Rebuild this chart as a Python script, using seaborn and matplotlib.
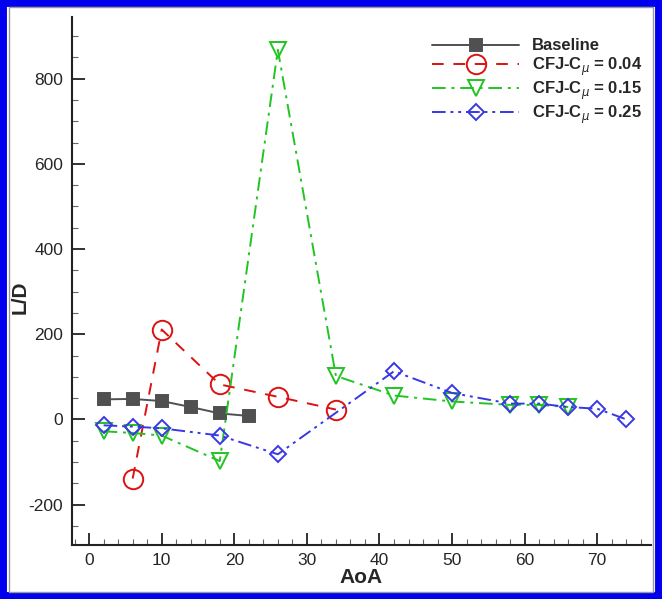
"""L/D vs AoA for baseline and CFJ cases."""
import matplotlib
matplotlib.use("Agg")
import matplotlib.pyplot as plt
from matplotlib.patches import Rectangle
from matplotlib.ticker import MultipleLocator
import seaborn as sns

# data
baseline_aoa = [2, 6, 10, 14, 18, 22]
baseline_ld = [47, 48, 43, 29, 14, 8]

cfj004_aoa = [6, 10, 18, 26, 34]
cfj004_ld = [-139, 211, 82, 53, 23]

cfj015_aoa = [2, 6, 10, 18, 26, 34, 42, 50, 58, 62, 66]
cfj015_ld = [-28, -32, -38, -98, 868, 102, 56, 42, 34, 34, 29]

cfj025_aoa = [2, 6, 10, 18, 26, 42, 50, 58, 62, 66, 70, 74]
cfj025_ld = [-14, -17, -21, -38, -82, 113, 62, 37, 37, 29, 25, 0]

series = [
    ("Baseline", baseline_aoa, baseline_ld, "#505050", "s", 8, "-", True),
    (r"CFJ-C$_{\mu}$ = 0.04", cfj004_aoa, cfj004_ld, "#dd1111", "o", 14, (0, (6, 5)), False),
    (r"CFJ-C$_{\mu}$ = 0.15", cfj015_aoa, cfj015_ld, "#22c422", "v", 11, (0, (7, 3, 1.5, 3)), False),
    (r"CFJ-C$_{\mu}$ = 0.25", cfj025_aoa, cfj025_ld, "#3838e6", "D", 8, (0, (7, 2.5, 1.5, 2.5, 1.5, 2.5)), False),
]

sns.set_style("ticks")
plt.rcParams["font.family"] = ["Liberation Sans", "DejaVu Sans"]
plt.rcParams["mathtext.fontset"] = "dejavusans"
plt.rcParams["axes.unicode_minus"] = False

fig = plt.figure(figsize=(6.62, 5.99), dpi=100)
ax = fig.add_axes([0.1083, 0.0902, 0.875, 0.8814])

for label, x, y, color, marker, ms, ls, filled in series:
    sns.lineplot(x=x, y=y, ax=ax, color=color, label=label, linestyle=ls,
                 linewidth=1.4, marker=marker, markersize=ms,
                 markerfacecolor=color if filled else "none",
                 markeredgecolor=color, markeredgewidth=1.4,
                 sort=False, estimator=None)

ax.set_xlim(-2.4, 77.4)
ax.set_ylim(-295, 945)
ax.xaxis.set_major_locator(MultipleLocator(10))
ax.xaxis.set_minor_locator(MultipleLocator(2))
ax.yaxis.set_major_locator(MultipleLocator(200))
ax.yaxis.set_minor_locator(MultipleLocator(50))
ax.tick_params(which="major", direction="in", length=9, width=1.3,
               labelsize=12.5, pad=6, color="#222222")
ax.tick_params(which="minor", direction="in", length=4.5, width=0.8, color="#666666")

for side in ["top", "right"]:
    ax.spines[side].set_visible(False)
for side in ["left", "bottom"]:
    ax.spines[side].set_linewidth(1.5)
    ax.spines[side].set_color("#222222")

ax.set_xlabel("AoA", fontsize=15, fontweight="bold", labelpad=0)
ax.set_ylabel("L/D", fontsize=15, fontweight="bold")
ax.yaxis.set_label_coords(-0.072, 0.47)

leg = ax.legend(loc="upper right", bbox_to_anchor=(0.997, 0.972), frameon=False,
                handlelength=5.2, prop={"weight": "bold", "size": 12},
                labelspacing=0.12, borderaxespad=0, handletextpad=0.8)

# outer frame of the exported picture
fig.patches.append(Rectangle((0, 0), 1, 1, transform=fig.transFigure, fill=False,
                             edgecolor="#0000ee", linewidth=10, zorder=10))
fig.patches.append(Rectangle((9 / 662, 7 / 599), 1 - 18 / 662, 1 - 14 / 599,
                             transform=fig.transFigure, fill=False,
                             edgecolor="#999999", linewidth=1, zorder=10))

fig.savefig("out.png", dpi=100)
plt.close(fig)
